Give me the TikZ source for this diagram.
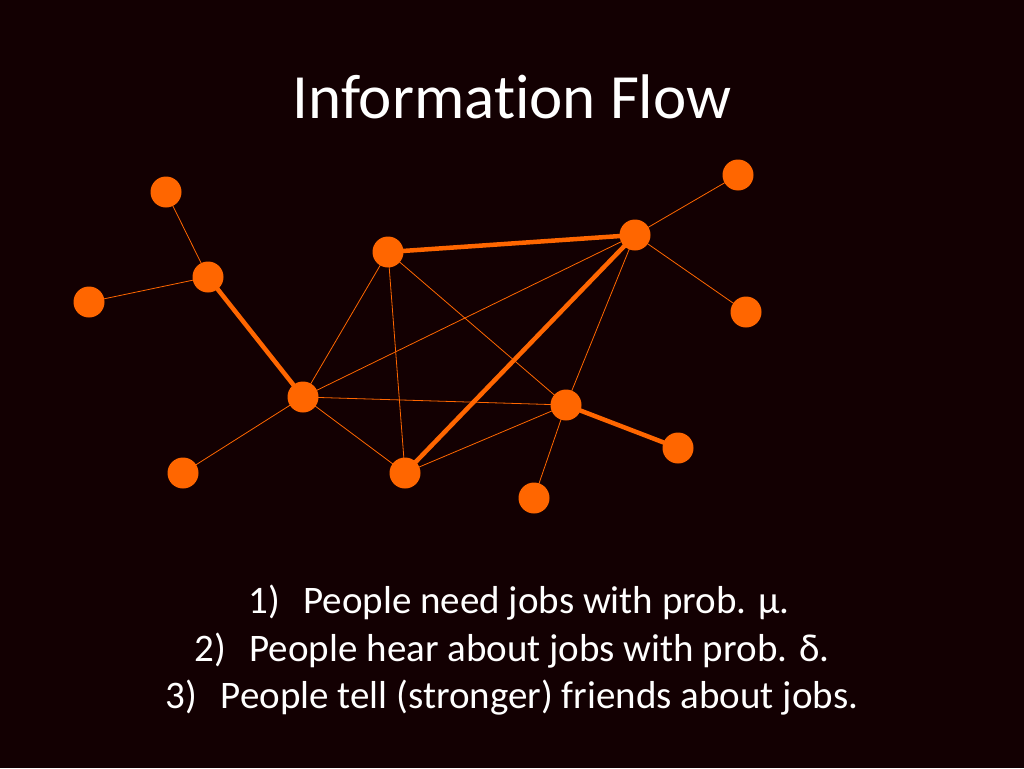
\documentclass[tikz,border=0pt]{standalone}
\usepackage{fontspec}
\setmainfont[Ligatures=NoCommon]{Carlito}
\definecolor{bg}{RGB}{19,0,2}
\definecolor{org}{RGB}{255,102,0}
\begin{document}
\begin{tikzpicture}[x=1pt,y=-1pt,
  dot/.style={circle,fill=org,minimum size=31pt,inner sep=0pt},
  thin/.style={org,line width=0.8pt},
  thick/.style={org,line width=4.5pt},
  txt/.style={text=white,font=\fontsize{39}{46}\selectfont}]
\fill[bg] (0,0) rectangle (1024,768);
\useasboundingbox (0,0) rectangle (1024,768);
\node[txt,font=\fontsize{63}{72}\selectfont] (title) at (512,97) {Information Flow};
\foreach \n/\x/\y in {A/166/192,B/208/277,C/89/302,D/388/252,E/635/235,F/738/175,G/746/312,H/303/397,I/566/405,J/678/448,K/183/473,L/405/473,M/534/498}
  \coordinate (\n) at (\x,\y);
\foreach \a/\b in {A/B,C/B,H/K,H/D,H/E,H/I,H/L,D/L,D/I,E/F,E/G,E/I,L/I,I/M}
  \draw[thin] (\a) -- (\b);
\foreach \a/\b in {B/H,D/E,E/L,I/J}
  \draw[thick] (\a) -- (\b);
\foreach \n in {A,B,C,D,E,F,G,H,I,J,K,L,M}
  \node[dot] (n\n) at (\n) {};
\node[txt] (t1) at (519,603) {1)\hspace{0.6em}People need jobs with prob. µ.};
\node[txt] (t2) at (512,651) {2)\hspace{0.6em}People hear about jobs with prob. δ.};
\node[txt] (t3) at (512,698) {3)\hspace{0.6em}People tell (stronger) friends about jobs.};
\end{tikzpicture}
\end{document}
